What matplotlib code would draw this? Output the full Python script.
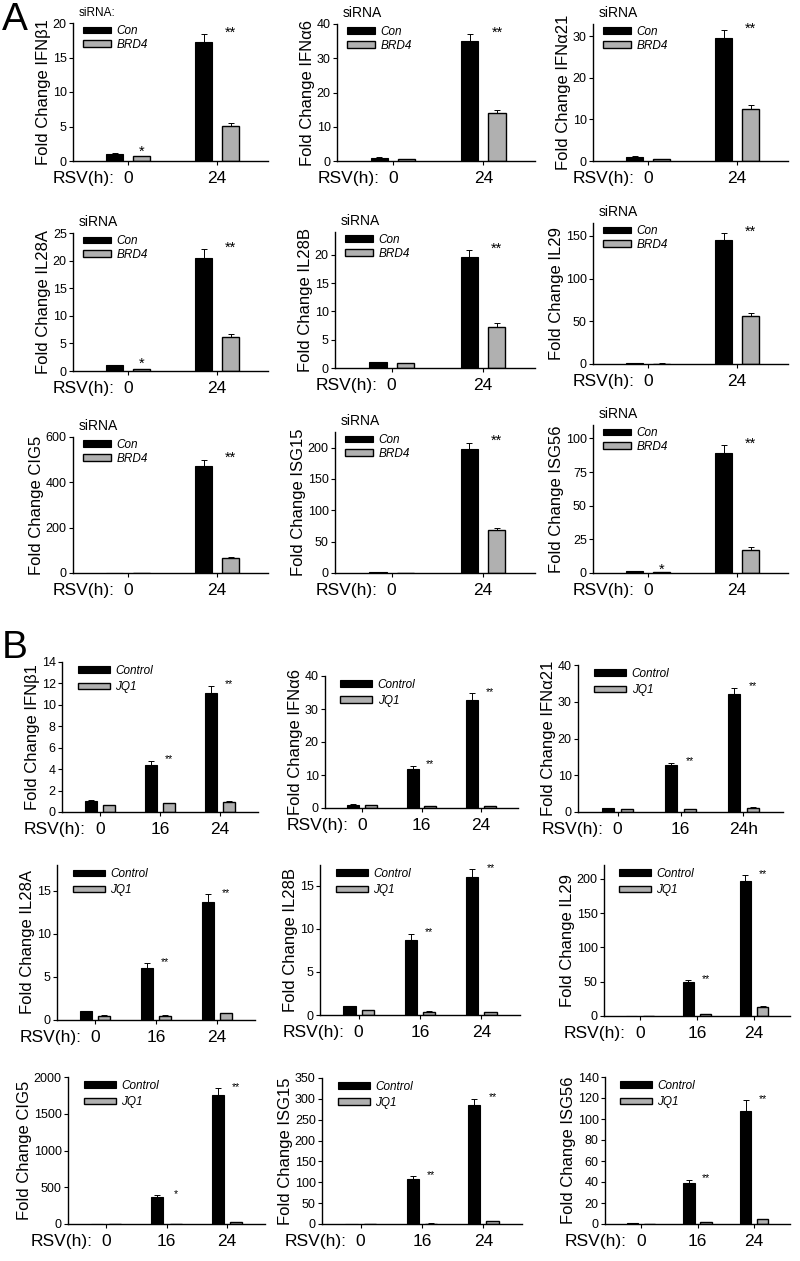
import matplotlib.pyplot as plt
import numpy as np

plt.rcParams["font.family"] = ["Liberation Sans", "DejaVu Sans"]

FIG_W, FIG_H = 800, 1261

# ---- Panel A: siRNA Con vs BRD4 ----
A_TIMES = ["0", "24"]
A_GENES = ["IFNβ1", "IFNα6", "IFNα21", "IL28A", "IL28B", "IL29", "CIG5", "ISG15", "ISG56"]
A_CON = [[1.0, 17.2], [1.0, 35.0], [1.0, 29.7], [1.0, 20.5], [1.0, 19.6],
         [1.5, 145.0], [1.0, 470.0], [1.0, 198.0], [1.2, 89.0]]
A_CON_ERR = [[0.1, 1.2], [0.1, 2.0], [0.1, 1.9], [0.1, 1.6], [0.1, 1.2],
             [0.2, 8.0], [0.1, 30.0], [0.1, 10.0], [0.1, 6.0]]
A_BRD4 = [[0.7, 5.1], [0.6, 14.0], [0.5, 12.5], [0.4, 6.2], [0.8, 7.3],
          [0.5, 56.0], [0.5, 65.0], [0.5, 68.0], [0.4, 17.0]]
A_BRD4_ERR = [[0.05, 0.4], [0.05, 1.0], [0.05, 0.9], [0.05, 0.5], [0.05, 0.6],
              [0.1, 4.0], [0.05, 4.0], [0.05, 4.0], [0.05, 2.0]]
A_STARS = [["*", "**"], ["", "**"], ["", "**"], ["*", "**"], ["", "**"],
           ["", "**"], ["", "**"], ["", "**"], ["*", "**"]]
A_YMAX = [20, 40, 33, 25, 24, 165, 600, 225, 110]
A_YTICKS = [np.arange(0, 21, 5), np.arange(0, 41, 10), np.arange(0, 31, 10),
            np.arange(0, 26, 5), np.arange(0, 21, 5), np.arange(0, 151, 50),
            np.arange(0, 601, 200), np.arange(0, 201, 50), np.arange(0, 101, 25)]
# pixel boxes: left, right, zero line, top
A_BOXES = [(73, 268, 161, 23), (337, 535, 161, 24), (593, 788, 161, 24),
           (73, 268, 371, 233), (335, 535, 368, 232), (593, 788, 364, 223),
           (73, 268, 573, 437), (335, 535, 573, 432), (593, 788, 573, 425)]

# ---- Panel B: Control vs JQ1 ----
B_TIMES = ["0", "16", "24"]
B_GENES = ["IFNβ1", "IFNα6", "IFNα21", "IL28A", "IL28B", "IL29", "CIG5", "ISG15", "ISG56"]
B_CTRL = [[1.05, 4.4, 11.1], [1.0, 11.8, 32.8], [1.0, 12.8, 32.0], [1.0, 6.0, 13.7],
          [1.0, 8.7, 16.0], [0.5, 49.0, 196.0], [1.0, 370.0, 1760.0],
          [1.0, 108.0, 285.0], [1.0, 39.0, 108.0]]
B_CTRL_ERR = [[0.05, 0.4, 0.7], [0.1, 1.0, 2.0], [0.1, 0.6, 1.8], [0.1, 0.6, 0.9],
              [0.1, 0.7, 0.9], [0.1, 3.0, 9.0], [0.1, 20.0, 90.0],
              [0.1, 7.0, 15.0], [0.1, 3.0, 10.0]]
B_JQ1 = [[0.65, 0.8, 0.95], [0.8, 0.6, 0.6], [0.9, 0.8, 1.2], [0.5, 0.5, 0.8],
         [0.6, 0.4, 0.3], [0.2, 3.0, 13.0], [0.5, 2.0, 25.0], [0.3, 1.0, 7.0],
         [0.3, 1.5, 4.5]]
B_JQ1_ERR = [[0.03, 0.03, 0.05], [0.05, 0.05, 0.05], [0.05, 0.05, 0.1], [0.03, 0.03, 0.05],
             [0.03, 0.03, 0.03], [0.05, 0.3, 1.0], [0.1, 0.3, 3.0], [0.05, 0.2, 0.8],
             [0.05, 0.2, 0.5]]
B_STARS = [["", "**", "**"], ["", "**", "**"], ["", "**", "**"], ["", "**", "**"],
           ["", "**", "**"], ["", "**", "**"], ["", "*", "**"], ["", "**", "**"],
           ["", "**", "**"]]
B_LAST_LABEL = ["24", "24", "24h", "24", "24", "24", "24", "24", "24"]
B_YMAX = [14, 40, 40, 18, 17.4, 220, 2000, 350, 140]
B_YTICKS = [np.arange(0, 15, 2), np.arange(0, 41, 10), np.arange(0, 41, 10),
            np.arange(0, 16, 5), np.arange(0, 16, 5), np.arange(0, 201, 50),
            np.arange(0, 2001, 500), np.arange(0, 351, 50), np.arange(0, 141, 20)]
B_BOXES = [(62, 258, 812, 662), (325, 518, 808, 676), (578, 783, 812, 665),
           (57, 255, 1020, 865), (320, 520, 1015, 865), (604, 790, 1016, 865),
           (68, 265, 1224, 1077), (322, 522, 1224, 1078), (605, 790, 1224, 1077)]

BLACK = "#000000"
GRAY = "#b0b0b0"


def add_axes(fig, box):
    left, right, zero, top = box
    return fig.add_axes([left / FIG_W, 1 - zero / FIG_H,
                         (right - left) / FIG_W, (zero - top) / FIG_H])


def style_axes(ax, gene, ymax, yticks, labels, xlim):
    for side in ["top", "right"]:
        ax.spines[side].set_visible(False)
    ax.spines["left"].set_linewidth(1.0)
    ax.spines["bottom"].set_linewidth(1.0)
    ax.set_ylim(0, ymax)
    ax.set_yticks(yticks)
    ax.set_xlim(*xlim)
    ax.set_xticks(np.arange(len(labels)))
    ax.set_xticklabels(labels, fontsize=12.5)
    ax.tick_params(axis="y", labelsize=9, length=3, width=0.8, pad=1.5)
    ax.tick_params(axis="x", length=3, width=0.8, pad=4)
    ax.set_ylabel("Fold Change " + gene, fontsize=12, labelpad=1)
    ax.annotate("RSV(h):", xy=(0, 0), xycoords=("data", "axes fraction"),
                xytext=(-10, -7), textcoords="offset points",
                ha="right", va="top", fontsize=12.5)


def draw_pair(ax, a_vals, a_err, b_vals, b_err, stars, offset, width, star_size):
    x = np.arange(len(a_vals))
    zeros = np.zeros(len(x))
    bars_a = ax.bar(x - offset, a_vals, width, color=BLACK, edgecolor=BLACK, linewidth=0.8)
    bars_b = ax.bar(x + offset, b_vals, width, color=GRAY, edgecolor=BLACK, linewidth=1.0)
    ax.errorbar(x - offset, a_vals, yerr=[zeros, a_err], fmt="none",
                ecolor=BLACK, elinewidth=0.7, capsize=2.5, capthick=0.7)
    ax.errorbar(x + offset, b_vals, yerr=[zeros, b_err], fmt="none",
                ecolor=BLACK, elinewidth=0.7, capsize=2.5, capthick=0.7)
    for i, s in enumerate(stars):
        if not s:
            continue
        top = max(a_vals[i] + a_err[i], b_vals[i] + b_err[i])
        ax.annotate(s, xy=(x[i] + offset, top), xytext=(0, 1),
                    textcoords="offset points", ha="center", va="center",
                    fontsize=star_size)
    return bars_a, bars_b


fig = plt.figure(figsize=(FIG_W / 100, FIG_H / 100), dpi=100)

for i in range(9):
    ax = add_axes(fig, A_BOXES[i])
    bars_a, bars_b = draw_pair(ax, A_CON[i], A_CON_ERR[i], A_BRD4[i], A_BRD4_ERR[i],
                               A_STARS[i], 0.15, 0.19, 10.5)
    style_axes(ax, A_GENES[i], A_YMAX[i], A_YTICKS[i], A_TIMES, (-0.62, 1.57))
    ax.legend([bars_a, bars_b], ["Con", "BRD4"], loc="upper left",
              bbox_to_anchor=(0.05, 0.985), frameon=False, borderpad=0,
              borderaxespad=0, handlelength=2.4, handleheight=0.5,
              handletextpad=0.45, labelspacing=0.15,
              prop={"size": 8.5, "style": "italic"})
    ax.annotate("siRNA:" if i == 0 else "siRNA", xy=(0.03, 1.0),
                xycoords="axes fraction", xytext=(0, 3), textcoords="offset points",
                ha="left", va="bottom", fontsize=8.5 if i == 0 else 10)

for i in range(9):
    ax = add_axes(fig, B_BOXES[i])
    bars_a, bars_b = draw_pair(ax, B_CTRL[i], B_CTRL_ERR[i], B_JQ1[i], B_JQ1_ERR[i],
                               B_STARS[i], 0.15, 0.2, 7.5)
    labels = B_TIMES[:-1] + [B_LAST_LABEL[i]]
    style_axes(ax, B_GENES[i], B_YMAX[i], B_YTICKS[i], labels, (-0.63, 2.63))
    ax.legend([bars_a, bars_b], ["Control", "JQ1"], loc="upper left",
              bbox_to_anchor=(0.08, 0.98), frameon=False, borderpad=0,
              borderaxespad=0, handlelength=2.7, handleheight=0.5,
              handletextpad=0.45, labelspacing=0.35,
              prop={"size": 8.5, "style": "italic"})

fig.text(2 / FIG_W, 1 - 2 / FIG_H, "A", fontsize=28, ha="left", va="top")
fig.text(2 / FIG_W, 1 - 630 / FIG_H, "B", fontsize=28, ha="left", va="top")

fig.savefig("out.png", dpi=100)
